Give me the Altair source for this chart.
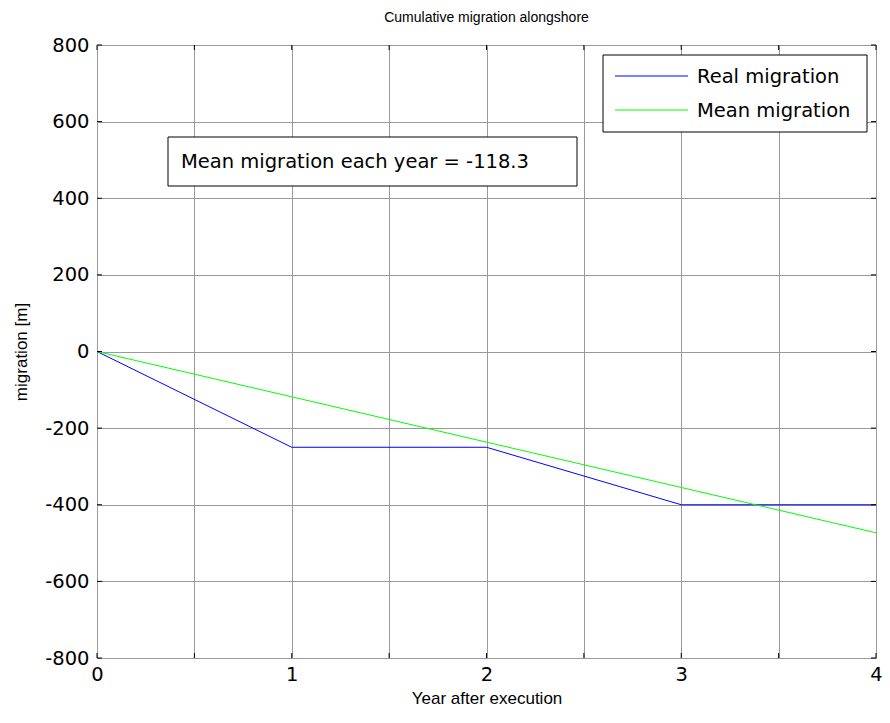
import altair as alt
import pandas as pd

years = [0, 1, 2, 3, 4]
real_migration = [0, -250, -250, -400, -400]
mean_migration = [0, -118.3, -236.6, -354.9, -473.2]
series_names = ["Real migration", "Mean migration"]
series_colors = ["#0000ff", "#00ff00"]
x_ticks = [0, 0.5, 1, 1.5, 2, 2.5, 3, 3.5, 4]
y_ticks = [-800, -600, -400, -200, 0, 200, 400, 600, 800]
annotation = "Mean migration each year = -118.3"

W, H = 779, 613
FONT = "DejaVu Sans"
TFONT = "Liberation Sans"
FS = 19.5

df = pd.DataFrame({
    "year": years * 2,
    "migration": real_migration + mean_migration,
    "series": [series_names[0]] * len(years) + [series_names[1]] * len(years),
})
xt = pd.DataFrame({"x": x_ticks})
yt = pd.DataFrame({"y": y_ticks})

xscale = alt.Scale(domain=[0, 4], nice=False, zero=False)
yscale = alt.Scale(domain=[-800, 800], nice=False, zero=False)

lines = alt.Chart(df).mark_line(strokeWidth=1, clip=True).encode(
    x=alt.X("year:Q", scale=xscale,
            axis=alt.Axis(values=x_ticks, title="Year after execution",
                          labelExpr="datum.value % 1 == 0 ? format(datum.value, 'd') : ''",
                          grid=True, gridColor="#999999", gridWidth=1, gridOpacity=1,
                          ticks=False, domain=False, labelPadding=7, labelFlush=False,
                          labelFontSize=FS, labelFont=FONT, labelColor="black",
                          titleFont=TFONT, titleFontSize=17, titleFontWeight="normal",
                          titleColor="black", titlePadding=7)),
    y=alt.Y("migration:Q", scale=yscale,
            axis=alt.Axis(values=y_ticks, title="migration [m]",
                          labelExpr="replace(format(datum.value, 'd'), '\u2212', '-')",
                          grid=True, gridColor="#999999", gridWidth=1, gridOpacity=1,
                          ticks=False, domain=False, labelPadding=8, labelFlush=False,
                          labelFontSize=FS, labelFont=FONT, labelColor="black",
                          titleFont=TFONT, titleFontSize=17, titleFontWeight="normal",
                          titleColor="black", titlePadding=14)),
    color=alt.Color("series:N", scale=alt.Scale(domain=series_names, range=series_colors),
                    legend=None),
)

tick_len = 5
xticks_bottom = alt.Chart(xt).mark_rule(color="black", strokeWidth=1).encode(
    x=alt.X("x:Q", scale=xscale), y=alt.value(H), y2=alt.value(H - tick_len))
xticks_top = alt.Chart(xt).mark_rule(color="black", strokeWidth=1).encode(
    x=alt.X("x:Q", scale=xscale), y=alt.value(0), y2=alt.value(tick_len))
yticks_left = alt.Chart(yt).mark_rule(color="black", strokeWidth=1).encode(
    y=alt.Y("y:Q", scale=yscale), x=alt.value(0), x2=alt.value(tick_len))
yticks_right = alt.Chart(yt).mark_rule(color="black", strokeWidth=1).encode(
    y=alt.Y("y:Q", scale=yscale), x=alt.value(W), x2=alt.value(W - tick_len))

# annotation box
ann_box = alt.Chart(pd.DataFrame({"t": [annotation]})).mark_rect(
    fill="white", stroke="black", strokeWidth=1).encode(
    x=alt.value(71), x2=alt.value(480), y=alt.value(92), y2=alt.value(141))
ann_text = alt.Chart(pd.DataFrame({"t": [annotation]})).mark_text(
    align="left", baseline="middle", font=FONT, fontSize=FS, color="black").encode(
    x=alt.value(84), y=alt.value(117), text="t:N")

# legend
leg_box = alt.Chart(pd.DataFrame({"t": [0]})).mark_rect(
    fill="white", stroke="black", strokeWidth=1).encode(
    x=alt.value(506), x2=alt.value(770), y=alt.value(10), y2=alt.value(87))
leg_layers = []
for i, (name, col) in enumerate(zip(series_names, series_colors)):
    yy = 31 + 34 * i
    d = pd.DataFrame({"t": [name]})
    leg_layers.append(alt.Chart(d).mark_rule(color=col, strokeWidth=1).encode(
        x=alt.value(518), x2=alt.value(591), y=alt.value(yy)))
    leg_layers.append(alt.Chart(d).mark_text(
        align="left", baseline="middle", font=FONT, fontSize=FS, color="black").encode(
        x=alt.value(600), y=alt.value(yy + 1), text="t:N"))

chart = alt.layer(
    lines, xticks_bottom, xticks_top, yticks_left, yticks_right,
    ann_box, ann_text, leg_box, *leg_layers
).properties(
    width=W, height=H,
    title=alt.TitleParams("Cumulative migration alongshore", font=TFONT, fontSize=14,
                          fontWeight="normal", color="black", anchor="middle", offset=10),
    autosize=alt.AutoSizeParams(type="none"),
    padding={"left": 89, "top": 37, "right": 6, "bottom": 51},
).configure_view(stroke="black", strokeWidth=1.5).configure(background="white")

chart.save("out.html", embed_options={"renderer": "svg", "actions": False})
